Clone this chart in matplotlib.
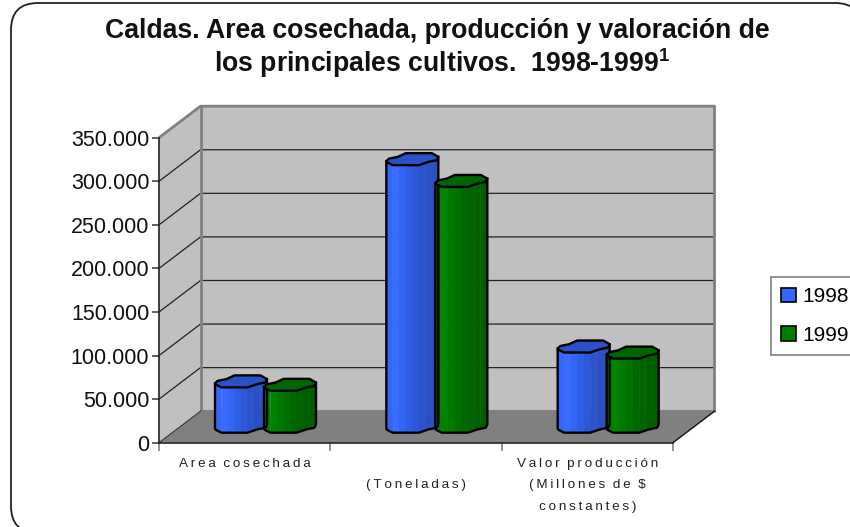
import numpy as np
import matplotlib
matplotlib.use("Agg")
import matplotlib.pyplot as plt
from matplotlib.patches import Polygon, Patch, FancyBboxPatch
from matplotlib.transforms import IdentityTransform

plt.rcParams['font.family'] = ['Liberation Sans', 'DejaVu Sans']
plt.rcParams['mathtext.fontset'] = 'custom'
plt.rcParams['mathtext.bf'] = 'Liberation Sans:bold'

categories = ["Area cosechada", "\n(Toneladas)", "Valor producción\n(Millones de $\nconstantes)"]
series_names = ["1998", "1999"]
values_1998 = [52000, 307000, 92000]
values_1999 = [48000, 282000, 85000]
yticks = [0, 50000, 100000, 150000, 200000, 250000, 300000, 350000]
ytick_labels = ["0", "50.000", "100.000", "150.000", "200.000", "250.000", "300.000", "350.000"]

W, H = 850, 527
DEPTH_X, DEPTH_Y = 41.5, 31.5
BAR_DX, BAR_DY = 13, 10

fig = plt.figure(figsize=(W / 100, H / 100), dpi=100)
ax = fig.add_axes([159 / W, 1 - 442.7 / H, 514 / W, 305 / H])
ax.set_xlim(0, 3)
ax.set_ylim(0, 350000)
ax.patch.set_visible(False)
disp = IdentityTransform()


def to_px(x, y):
    return ax.transData.transform((x, y))


# outer rounded frame, runs off the right and bottom of the picture
fig.add_artist(FancyBboxPatch((11, H - 533), 851, 530, boxstyle="round,pad=0,rounding_size=27",
                              fc='white', ec='#222222', lw=1.3, transform=disp, zorder=-5))

# walls and floor
fl, fb = to_px(0, 0)
fr, ft = to_px(3, 350000)
d = np.array([DEPTH_X, DEPTH_Y])
floor = [(fl, fb), (fr, fb), (fr + d[0], fb + d[1]), (fl + d[0], fb + d[1])]
back = [(fl + d[0], fb + d[1]), (fr + d[0], fb + d[1]), (fr + d[0], ft + d[1]), (fl + d[0], ft + d[1])]
side = [(fl, fb), (fl + d[0], fb + d[1]), (fl + d[0], ft + d[1]), (fl, ft)]
ax.add_patch(Polygon(floor, fc='#808080', ec='none', transform=disp, clip_on=False, zorder=1))
ax.add_patch(Polygon(back, fc='#C0C0C0', ec='none', transform=disp, clip_on=False, zorder=1))
ax.add_patch(Polygon(side, fc='#C0C0C0', ec='none', transform=disp, clip_on=False, zorder=1))

for t in yticks[1:-1]:
    _, py = to_px(0, t)
    ax.plot([fl, fl + d[0], fr + d[0]], [py, py + d[1], py + d[1]], color='#222222', lw=0.9,
            transform=disp, clip_on=False, zorder=2)
# grey wall edges
ax.plot([fl, fl + d[0], fr + d[0], fr + d[0]], [ft, ft + d[1], ft + d[1], fb + d[1]], color='#808080', lw=2,
        transform=disp, clip_on=False, zorder=3)
ax.plot([fl + d[0], fl + d[0]], [fb + d[1], ft + d[1]], color='#808080', lw=2, transform=disp, clip_on=False, zorder=3)
ax.plot([fl + d[0], fr + d[0]], [fb + d[1], fb + d[1]], color='#808080', lw=1.5, transform=disp, clip_on=False, zorder=3)
ax.plot([fr, fr + d[0]], [fb, fb + d[1]], color='#111111', lw=1, transform=disp, clip_on=False, zorder=3)
ax.plot([fl, fl + d[0]], [fb, fb + d[1]], color='#333333', lw=0.8, transform=disp, clip_on=False, zorder=3)

# outline of the rough cylinder, x as share of bar width, y in pixels above the front edge
front_x = np.array([0, 0.02, 0.125, 0.625, 0.81, 0.97, 1.0])
front_y = np.array([4, 2.7, 0, 0, 3.3, 5, 8.3])
back_x = np.array([1.0, 0.875, 0.375, 0.22, 0.05, 0])
back_y = np.array([8.3, 12, 12, 8.3, 6.5, 4])


def draw_bar(x0, value, width_px, band_cols, top_col):
    px0, py0 = to_px(x0, 0)
    _, py1 = to_px(x0, value)
    px0 += BAR_DX
    py0 += BAR_DY
    py1 += BAR_DY
    n = len(band_cols)
    edges = np.linspace(0, 1, n + 1)
    for i, c in enumerate(band_cols):
        xs = np.linspace(edges[i], edges[i + 1], 6)
        ys = np.interp(xs, front_x, front_y)
        pts = list(zip(px0 + xs * width_px, py1 + ys)) + list(zip(px0 + xs[::-1] * width_px, py0 + ys[::-1]))
        ax.add_patch(Polygon(pts, fc=c, ec=c, lw=0.3, transform=disp, clip_on=False, zorder=5))
    top = list(zip(px0 + front_x * width_px, py1 + front_y)) + list(zip(px0 + back_x[1:-1] * width_px, py1 + back_y[1:-1]))
    ax.add_patch(Polygon(top, fc=top_col, ec='black', lw=1.7, joinstyle='round', transform=disp, clip_on=False, zorder=6))
    outline = list(zip(px0 + front_x * width_px, py0 + front_y))
    outline = [(px0, py1 + front_y[0])] + outline + [(px0 + width_px, py1 + front_y[-1])]
    xo, yo = zip(*outline)
    ax.plot(xo, yo, color='black', lw=1.7, transform=disp, clip_on=False, zorder=6)


blue_bands = ['#3366FF', '#3A6CFF', '#3366F5', '#2F5EE6', '#2D58D8', '#2B54CC', '#2A50C4', '#2A4FC0']
green_bands = ['#007F00', '#008400', '#007A00', '#007000', '#006800', '#006400', '#006000', '#005E00']
bar_w = 52
bar_step = 49 / (514 / 3)
for i in range(len(categories)):
    start = i + 43 / (514 / 3)
    draw_bar(start, values_1998[i], bar_w, blue_bands, '#2A52C8')
    draw_bar(start + bar_step, values_1999[i], bar_w, green_bands, '#006400')

for s in ['top', 'right']:
    ax.spines[s].set_visible(False)
for s in ['left', 'bottom']:
    ax.spines[s].set_color('#222222')
    ax.spines[s].set_linewidth(1.2)
    ax.spines[s].set_zorder(4)
ax.spines['left'].set_bounds(0, 350000)

ax.set_yticks(yticks)
ax.set_yticklabels(ytick_labels, fontsize=15.5, color='#111111')
ax.tick_params(axis='y', length=5, width=1.2, color='#444444', pad=2)


def spaced(s):
    return '\n'.join('  '.join('\u2009'.join(w) for w in line.split(' ')) for line in s.split('\n'))


ax.set_xticks([0, 1, 2, 3])
ax.set_xticklabels([])
ax.tick_params(axis='x', length=6, width=1.2, color='#808080')
for i, c in enumerate(categories):
    px, py = to_px(i + 0.5, 0)
    ax.text(px, py - 15, spaced(c), transform=disp, ha='center', va='top', fontsize=9.7, color='#222222',
            linespacing=2.06, clip_on=False)

# title
fig.text(437 / W, 1 - 30.5 / H, "Caldas. Area cosechada, producción y valoración de", ha='center', va='center',
         fontsize=19.2, fontweight='bold', color='#111111')
fig.text(442 / W, 1 - 63 / H, r"los principales cultivos.  1998-1999$^{\mathbf{1}}$", ha='center', va='center',
         fontsize=19.2, fontweight='bold', color='#111111')

handles = [Patch(fc='#3366FF', ec='black', lw=1.2, label=series_names[0]),
           Patch(fc='#007F00', ec='black', lw=1.2, label=series_names[1])]
leg = fig.legend(handles=handles, loc='upper left', bbox_to_anchor=(771 / W, 1 - 277 / H), borderaxespad=0,
                 fontsize=15, fancybox=False, framealpha=1, edgecolor='#808080', handlelength=0.7,
                 handleheight=0.7, handletextpad=0.3, labelspacing=0.92, borderpad=0.5)
leg.get_frame().set_linewidth(1.2)

fig.savefig("out.png", dpi=100)
